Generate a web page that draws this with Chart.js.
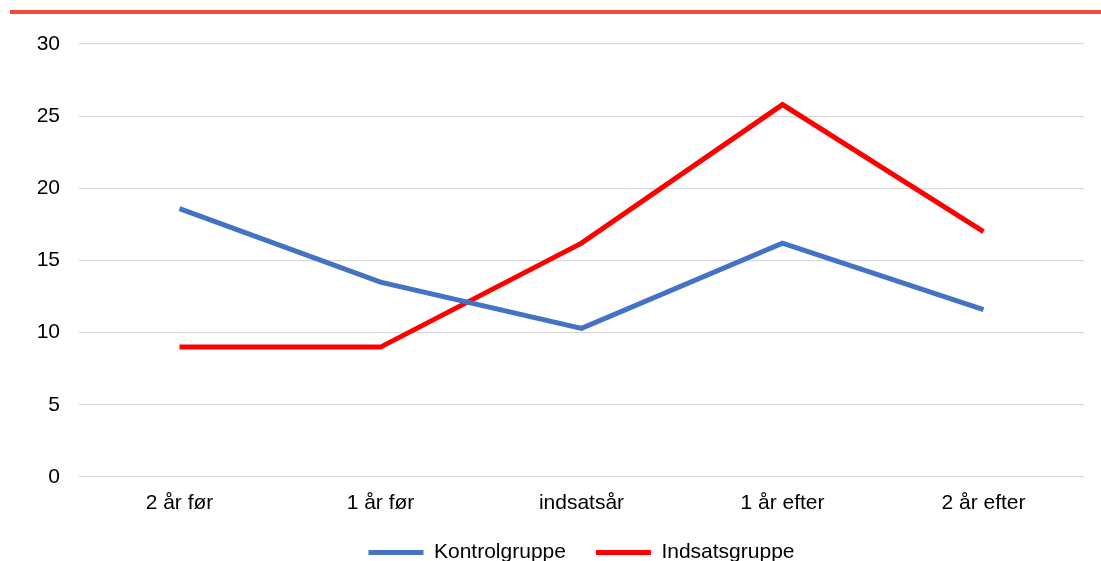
<!DOCTYPE html>
<html>
<head>
<meta charset="utf-8">
<script src="https://cdn.jsdelivr.net/npm/chart.js@4"></script>
<style>
    body { margin: 0; background: #fff; }
    #wrap { position: relative; width: 1101px; height: 561px; }
    #topbar { position: absolute; left: 10px; right: 0; top: 10px; height: 4px; background: #f44a3b; }
</style>
</head>
<body>
<div id="wrap">
    <div id="topbar"></div>
    <canvas id="lineChart"></canvas>
</div>
<script>
const categories = ['2 år før', '1 år før', 'indsatsår', '1 år efter', '2 år efter'];
const kontrolgruppe = [18.6, 13.5, 10.3, 16.2, 11.6];
const indsatsgruppe = [9.0, 9.0, 16.2, 25.8, 17.0];
const yTicks = [0, 5, 10, 15, 20, 25, 30];

Chart.defaults.font.family = '"Liberation Sans", Arial, sans-serif';
Chart.defaults.font.size = 21;
Chart.defaults.color = '#000';

// Line chart Kontrol vs Indsats
const ctxLine = document.getElementById('lineChart').getContext('2d');
new Chart(ctxLine, {
    type: 'line',
    data: {
        labels: categories,
        datasets: [{
            label: 'Kontrolgruppe',
            data: kontrolgruppe,
            borderColor: '#4472c4',
            backgroundColor: '#4472c4',
            borderWidth: 5,
            pointRadius: 0,
            tension: 0
        }, {
            label: 'Indsatsgruppe',
            data: indsatsgruppe,
            borderColor: '#ff0000',
            backgroundColor: '#ff0000',
            borderWidth: 5,
            pointRadius: 0,
            tension: 0
        }]
    },
    options: {
        responsive: true,
        maintainAspectRatio: false,
        animation: false,
        layout: {
            padding: { left: 0, right: 17, top: 44, bottom: -12 }
        },
        plugins: {
            tooltip: { enabled: false },
            legend: {
                position: 'bottom',
                fullSize: false,
                labels: {
                    boxWidth: 55,
                    boxHeight: 5,
                    padding: 30,
                    generateLabels: function(chart) {
                        return Chart.defaults.plugins.legend.labels.generateLabels(chart)
                            .map(item => Object.assign(item, { lineWidth: 0 }));
                    }
                }
            }
        },
        scales: {
            x: {
                offset: true,
                grid: { display: false },
                border: { display: false },
                ticks: { padding: 6 },
                afterFit: axis => { axis.height = 35; }
            },
            y: {
                min: yTicks[0],
                max: yTicks[yTicks.length - 1],
                afterBuildTicks: axis => { axis.ticks = yTicks.map(v => ({ value: v })); },
                grid: { color: '#d9d9d9', lineWidth: 1.3, drawTicks: false },
                border: { display: false },
                ticks: { padding: 19 },
                afterFit: axis => { axis.width = 79; }
            }
        }
    }
});
</script>
</body>
</html>
